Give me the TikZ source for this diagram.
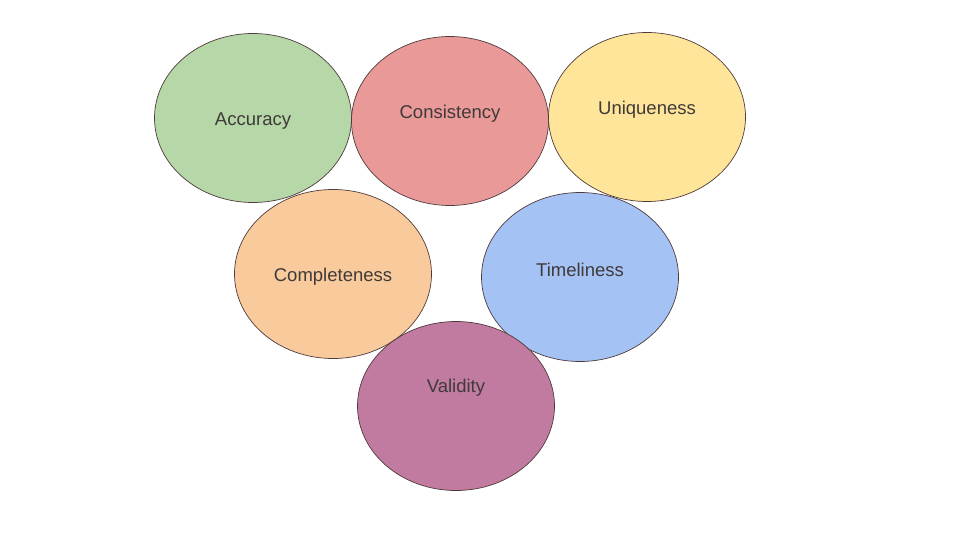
\documentclass[tikz,border=0pt]{standalone}
\usepackage{fontspec}
\setmainfont{Liberation Sans}
\usetikzlibrary{shapes.geometric}
\definecolor{DQGreen}{HTML}{B6D7A8}
\definecolor{DQRed}{HTML}{EA9999}
\definecolor{DQYellow}{HTML}{FFE599}
\definecolor{DQOrange}{HTML}{F9CB9C}
\definecolor{DQBlue}{HTML}{A4C2F4}
\definecolor{DQPurple}{HTML}{C27BA0}
\definecolor{DQEdge}{HTML}{4E3A3A}
\definecolor{DQText}{HTML}{3F3A3A}
\tikzset{
  dqcircle/.style={ellipse,draw=DQEdge,line width=0.7pt,inner sep=0pt,
    minimum width=197pt,minimum height=169pt},
  dqtext/.style={font=\fontsize{18.5}{21}\selectfont,text=DQText}
}
\begin{document}
\begin{tikzpicture}[x=1pt,y=-1pt]
  \useasboundingbox (0,0) rectangle (960,540);

  % top row
  \node[dqcircle,fill=DQGreen] (accuracy) at (253,118) {};
  \node[dqtext] (accuracytxt) at (253,121) {Accuracy};
  \node[dqcircle,fill=DQRed] (consistency) at (450,121) {};
  \node[dqtext] (consistencytxt) at (450,114) {Consistency};
  \node[dqcircle,fill=DQYellow] (uniqueness) at (647,117) {};
  \node[dqtext] (uniquenesstxt) at (647,110) {Uniqueness};

  % middle row
  \node[dqcircle,fill=DQOrange] (completeness) at (333,274) {};
  \node[dqtext] (completenesstxt) at (333,277) {Completeness};
  \node[dqcircle,fill=DQBlue] (timeliness) at (580,277) {};
  \node[dqtext] (timelinesstxt) at (580,270) {Timeliness};

  % bottom
  \node[dqcircle,fill=DQPurple] (validity) at (456,406) {};
  \node[dqtext] (validitytxt) at (456,388) {Validity};
\end{tikzpicture}
\end{document}
